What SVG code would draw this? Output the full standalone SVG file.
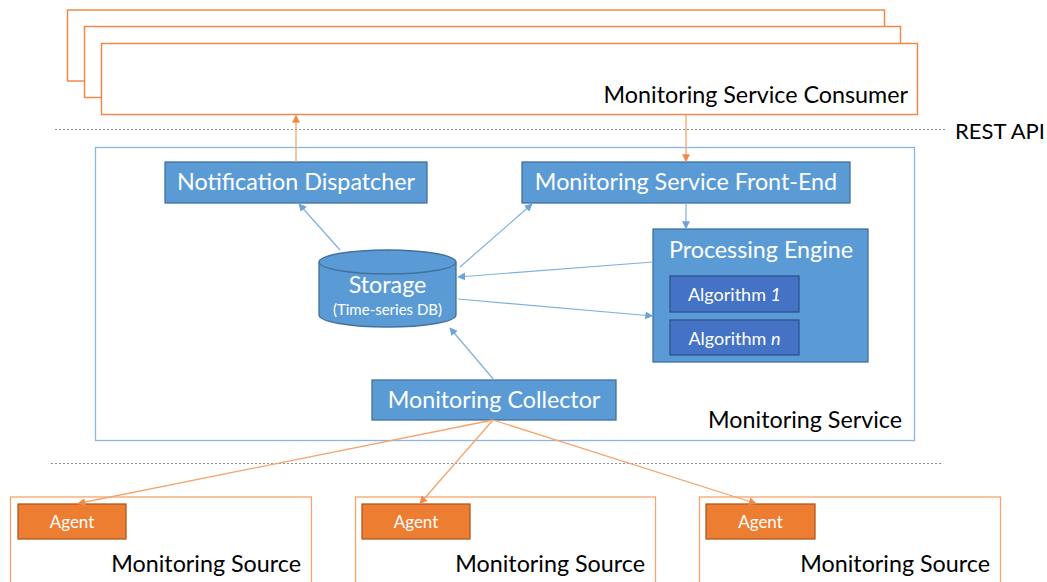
<svg xmlns="http://www.w3.org/2000/svg" width="1047" height="582" viewBox="0 0 1047 582">
<style>
text{font-family:Lato,"Liberation Sans",sans-serif}
.cons{fill:#fff;stroke:#F08A4B;stroke-width:1.5}
.src{fill:#fff;stroke:#F4A46C;stroke-width:1.3}
.node{fill:#5B9BD5;stroke:#41719C;stroke-width:1.3}
.alg{fill:#4472C4;stroke:#2F528F;stroke-width:1.3}
.agent{fill:#ED7D31;stroke:#AE5A21;stroke-width:1.3}
.wt{fill:#fff;font-size:23.3px;text-anchor:middle}
.bt{fill:#000;font-size:23.3px;text-anchor:end}
.dot{stroke:#909090;stroke-width:1;stroke-dasharray:2 2;fill:none}
.bl{stroke:#7EB0DF;stroke-width:1.2;fill:none;marker-end:url(#ab)}
.or{stroke:#F4A46C;stroke-width:1.3;fill:none;marker-end:url(#ao)}
</style>
<defs>
<marker id="ab" viewBox="0 0 10 10" refX="9" refY="5" markerWidth="8" markerHeight="8" markerUnits="userSpaceOnUse" orient="auto"><path d="M0,0L10,5L0,10z" fill="#6FA3D8"/></marker>
<marker id="ao" viewBox="0 0 10 10" refX="9" refY="5" markerWidth="8" markerHeight="8" markerUnits="userSpaceOnUse" orient="auto"><path d="M0,0L10,5L0,10z" fill="#F08A4B"/></marker>
</defs>
<rect width="1047" height="582" fill="#fff"/>

<g id="consumer">
<rect class="cons" x="67.5" y="10" width="817" height="71"/>
<rect class="cons" x="84.5" y="26.5" width="816" height="71"/>
<rect class="cons" x="101.5" y="43.5" width="816" height="71"/>
<text class="bt" x="908" y="103">Monitoring Service Consumer</text>
</g>

<g id="separators">
<line class="dot" x1="55" y1="129.5" x2="945" y2="129.5"/>
<line class="dot" x1="51" y1="463.5" x2="943" y2="463.5"/>
<text x="1045" y="139" style="font-size:22px;text-anchor:end;fill:#000">REST API</text>
</g>

<g id="monitoring-service">
<rect x="95.5" y="147.5" width="819" height="293" fill="none" stroke="#8AB6E2" stroke-width="1.3"/>
<text class="bt" x="902" y="428">Monitoring Service</text>
</g>

<g id="notification-dispatcher">
<rect class="node" x="165" y="162" width="262" height="41"/>
<text class="wt" x="296" y="190">Notification Dispatcher</text>
</g>

<g id="front-end">
<rect class="node" x="522" y="162" width="328" height="41"/>
<text class="wt" x="686" y="190">Monitoring Service Front-End</text>
</g>

<g id="storage">
<path class="node" d="M319,262 V315 A68.5,12 0 0 0 456,315 V262"/>
<ellipse class="node" cx="387.5" cy="262" rx="68.5" ry="12"/>
<text class="wt" x="387.5" y="293">Storage</text>
<text class="wt" x="387.5" y="315" style="font-size:15px">(Time-series DB)</text>
</g>

<g id="processing-engine">
<rect class="node" x="653" y="229" width="215" height="133"/>
<text class="wt" x="761" y="258">Processing Engine</text>
</g>

<g id="algorithm-1">
<rect class="alg" x="670" y="276" width="129" height="36"/>
<text class="wt" x="734.5" y="300.5" style="font-size:18px">Algorithm <tspan font-style="italic">1</tspan></text>
</g>

<g id="algorithm-n">
<rect class="alg" x="670" y="320" width="129" height="35"/>
<text class="wt" x="734.5" y="344.5" style="font-size:18px">Algorithm <tspan font-style="italic">n</tspan></text>
</g>

<g id="collector">
<rect class="node" x="372" y="380" width="244" height="40"/>
<text class="wt" x="494" y="408">Monitoring Collector</text>
</g>

<g id="source-1">
<rect class="src" x="10.5" y="497" width="301" height="100"/>
<rect class="agent" x="18" y="504" width="108" height="35"/>
<text class="wt" x="72" y="528" style="font-size:17px">Agent</text>
<text class="bt" x="301" y="572">Monitoring Source</text>
</g>

<g id="source-2">
<rect class="src" x="355.5" y="497" width="300" height="100"/>
<rect class="agent" x="362" y="504" width="108" height="35"/>
<text class="wt" x="416" y="528" style="font-size:17px">Agent</text>
<text class="bt" x="645" y="572">Monitoring Source</text>
</g>

<g id="source-3">
<rect class="src" x="699.5" y="497" width="301" height="100"/>
<rect class="agent" x="706" y="504" width="109" height="35"/>
<text class="wt" x="760.5" y="528" style="font-size:17px">Agent</text>
<text class="bt" x="990" y="572">Monitoring Source</text>
</g>

<g id="connectors">
<line class="or" x1="296" y1="162" x2="296" y2="115.5"/>
<line class="or" x1="686" y1="115" x2="686" y2="161.5"/>
<line class="bl" x1="686" y1="203" x2="686" y2="228.5"/>
<line class="bl" x1="340" y1="250" x2="299" y2="204"/>
<line class="bl" x1="460" y1="267" x2="532" y2="204"/>
<line class="bl" x1="653" y1="262" x2="458" y2="277"/>
<line class="bl" x1="458" y1="299" x2="652.5" y2="316"/>
<line class="bl" x1="494" y1="380" x2="450" y2="328"/>
<line class="or" x1="493" y1="420" x2="78" y2="503.5"/>
<line class="or" x1="493" y1="420" x2="420" y2="503.5"/>
<line class="or" x1="493" y1="420" x2="756" y2="503.5"/>
</g>
</svg>
